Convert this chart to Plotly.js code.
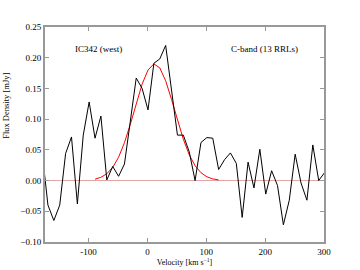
<!DOCTYPE html>
<html>
<head>
<meta charset="utf-8">
<script src="https://cdn.plot.ly/plotly-3.0.1.min.js"></script>
<style>html,body{margin:0;padding:0;background:#fff;}#chart{width:360px;height:270px;}</style>
</head>
<body>
<div id="chart"></div>
<script>
// Channel velocities (km/s)
const velocity = [-179,-169,-159,-149,-139,-129,-119,-109,-99,-89,-79,-69,-59,-49,-39,-29,-19,-9,1,11,21,31,41,51,61,71,81,91,101,111,121,131,141,151,161,171,181,191,201,211,221,231,241,251,261,271,281,291,301];
// Observed stacked spectrum (mJy)
const fluxObserved = [0.047,-0.040,-0.065,-0.040,0.044,0.071,-0.038,0.074,0.128,0.069,0.105,0.001,0.023,0.007,0.027,0.097,0.167,0.150,0.115,0.191,0.198,0.220,0.147,0.074,0.074,0.047,0.000,0.062,0.070,0.069,0.018,0.034,0.045,0.028,-0.060,0.030,-0.012,0.051,-0.022,0.016,-0.008,-0.072,-0.032,0.043,-0.004,-0.032,0.058,0.000,0.013];
// Gaussian fit (mJy) (null where it merges into the zero line)
const fluxFit = [null,null,null,null,null,null,null,null,null,0.0022,0.0053,0.0111,0.0215,0.038,0.0617,0.0918,0.1254,0.157,0.180,0.190,0.1835,0.1625,0.132,0.0984,0.0673,0.042,0.0242,0.0128,0.0062,0.0027,0.0011,null,null,null,null,null,null,null,null,null,null,null,null,null,null,null,null,null,null];
const xTicks = [-100,0,100,200,300];
const yTicks = [-0.10,-0.05,0.00,0.05,0.10,0.15,0.20,0.25];
const labelLeft = "IC342 (west)";
const labelRight = "C-band (13 RRLs)";
const xTitle = "Velocity [km s<sup>−1</sup>]";
const yTitle = "Flux Density [mJy]";

const serif = "'Liberation Serif', 'DejaVu Serif', serif";
const frame = "#999999";

const traces = [
  {x: velocity, y: fluxFit, mode: "lines", line: {color: "#ff0000", width: 1}, connectgaps: false, hoverinfo: "skip"},
  {x: velocity, y: fluxObserved, mode: "lines", line: {color: "#000000", width: 1}, hoverinfo: "skip"}
];

const layout = {
  width: 360, height: 270,
  margin: {l: 45, r: 36, t: 27, b: 28},
  paper_bgcolor: "#ffffff", plot_bgcolor: "#ffffff",
  showlegend: false,
  font: {family: serif, size: 9, color: "#000"},
  xaxis: {
    range: [-174, 300], tickvals: xTicks, ticktext: xTicks.map(String),
    ticks: "inside", ticklen: 4, tickcolor: frame, tickwidth: 1,
    showline: true, linecolor: frame, linewidth: 2, mirror: "ticks",
    showgrid: false, zeroline: false,
    tickfont: {family: serif, size: 9},
    title: {text: xTitle, font: {family: serif, size: 8}, standoff: 4}
  },
  yaxis: {
    range: [-0.10, 0.25], tickvals: yTicks, tickformat: ".2f",
    ticks: "inside", ticklen: 4, tickcolor: frame, tickwidth: 1,
    showline: true, linecolor: frame, linewidth: 2, mirror: "ticks",
    showgrid: false, zeroline: true, zerolinecolor: "#e2a6a6", zerolinewidth: 1,
    tickfont: {family: serif, size: 9}
  },
  annotations: [
    {text: labelLeft, xref: "paper", yref: "paper", x: 0.1, y: 0.9, xanchor: "left", yanchor: "middle", showarrow: false, font: {family: serif, size: 9}},
    {text: labelRight, xref: "paper", yref: "paper", x: 0.915, y: 0.9, xanchor: "right", yanchor: "middle", showarrow: false, font: {family: serif, size: 9}},
    {text: yTitle, xref: "paper", yref: "paper", x: -0.14, y: 0.633, xanchor: "center", yanchor: "middle", textangle: -90, showarrow: false, font: {family: serif, size: 8.5}}
  ]
};

Plotly.newPlot("chart", traces, layout, {staticPlot: true, displayModeBar: false});
</script>
</body>
</html>
